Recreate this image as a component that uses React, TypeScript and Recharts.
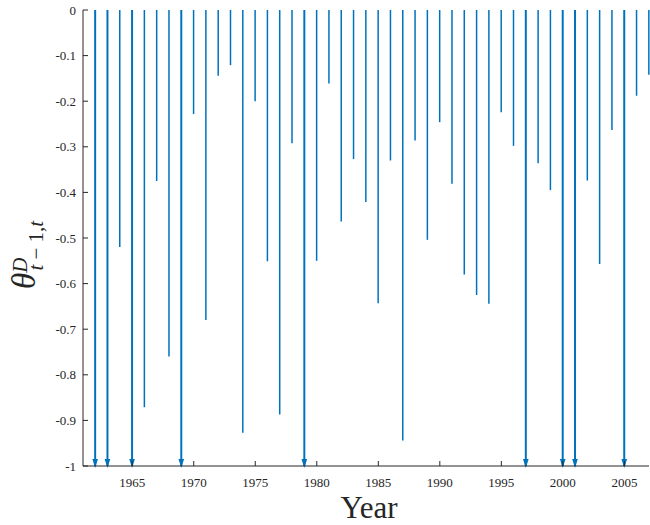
import { BarChart, Bar, XAxis, YAxis, Label } from 'recharts'

// years on the x axis
const years = [
  1962, 1963, 1964, 1965, 1966, 1967, 1968, 1969, 1970, 1971, 1972, 1973,
  1974, 1975, 1976, 1977, 1978, 1979, 1980, 1981, 1982, 1983, 1984, 1985,
  1986, 1987, 1988, 1989, 1990, 1991, 1992, 1993, 1994, 1995, 1996, 1997,
  1998, 1999, 2000, 2001, 2002, 2003, 2004, 2005, 2006, 2007,
]

// theta^D_{t-1,t}; -1 = clipped at the axis (drawn with an arrow)
const theta = [
  -1, -1, -0.52, -1, -0.871, -0.375, -0.76, -1, -0.228, -0.68, -0.144, -0.121,
  -0.927, -0.2, -0.551, -0.887, -0.292, -1, -0.55, -0.161, -0.464, -0.327, -0.421, -0.643,
  -0.33, -0.944, -0.286, -0.504, -0.246, -0.381, -0.58, -0.625, -0.644, -0.224, -0.298, -1,
  -0.336, -0.395, -1, -1, -0.374, -0.557, -0.263, -1, -0.188, -0.142,
]

const xTicks = [1965, 1970, 1975, 1980, 1985, 1990, 1995, 2000, 2005]
const yTicks = [0, -0.1, -0.2, -0.3, -0.4, -0.5, -0.6, -0.7, -0.8, -0.9, -1]

const data = years.map((year, i) => ({ year, theta: theta[i] }))

const BLUE = '#0072BD'
const INK = '#262626'
const SERIF = 'Liberation Serif, Times New Roman, serif'

function Stem(props: any) {
  const { x, y, width, height, payload } = props
  if (x == null || y == null) return null
  const cx = x + width / 2
  const top = Math.min(y, y + height)
  const bottom = Math.max(y, y + height)
  const clipped = payload.theta <= -1
  return (
    <g>
      <line x1={cx} x2={cx} y1={top} y2={bottom} stroke={BLUE} strokeWidth={clipped ? 2 : 1.5} />
      {clipped && (
        <polygon
          points={`${cx - 2.8},${bottom - 7} ${cx + 2.8},${bottom - 7} ${cx},${bottom + 2}`}
          fill={BLUE}
        />
      )}
    </g>
  )
}

function XTick({ x, y, payload }: any) {
  return (
    <text x={x} y={y} dy="0.71em" textAnchor="middle" fontSize={13} fontFamily={SERIF} fill={INK}>
      {payload.value}
    </text>
  )
}

function YTick({ x, y, payload }: any) {
  return (
    <text x={x} y={y} dy="0.35em" textAnchor="end" fontSize={13} fontFamily={SERIF} fill={INK}>
      {payload.value}
    </text>
  )
}

export default function App() {
  return (
    <div style={{ position: 'absolute', left: 0, top: 0, background: '#fff', fontFamily: SERIF }}>
      <BarChart
        width={650}
        height={525}
        data={data}
        margin={{ top: 10, right: 1, left: 0, bottom: 0 }}
      >
        <XAxis
          dataKey="year"
          type="number"
          domain={[1961, 2007]}
          ticks={xTicks}
          height={59}
          tickSize={-5}
          tickMargin={17}
          axisLine={{ stroke: INK }}
          tickLine={{ stroke: INK }}
          tick={<XTick />}
        >
          <Label
            content={() => (
              <text x={369} y={518} textAnchor="middle" fontSize={31} fontFamily={SERIF} fill={INK}>
                Year
              </text>
            )}
          />
        </XAxis>
        <YAxis
          type="number"
          domain={[-1, 0]}
          ticks={yTicks}
          width={83}
          tickSize={-5}
          tickMargin={12}
          axisLine={{ stroke: INK }}
          tickLine={{ stroke: INK }}
          tick={<YTick />}
        >
          <Label
            content={() => (
              <text transform="translate(35,289) rotate(-90)" fontFamily={SERIF} fill={INK}>
                <tspan fontSize={33} fontStyle="italic">θ</tspan>
                <tspan fontSize={21} fontStyle="italic" dy={-8}>D</tspan>
                <tspan fontSize={21} fontStyle="italic" dx={-13} dy={16}>t</tspan>
                <tspan fontSize={21}> − 1,</tspan>
                <tspan fontSize={21} fontStyle="italic">t</tspan>
              </text>
            )}
          />
        </YAxis>
        <Bar dataKey="theta" barSize={2} shape={<Stem />} isAnimationActive={false} />
      </BarChart>
    </div>
  )
}
